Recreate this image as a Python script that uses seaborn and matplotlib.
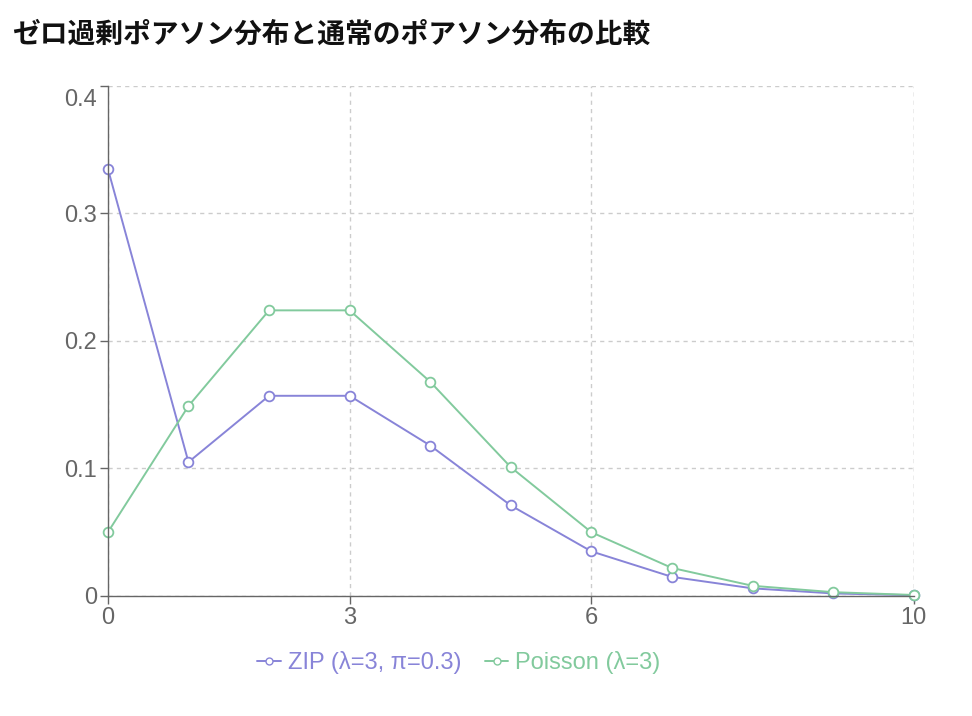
import numpy as np
import pandas as pd
import matplotlib
matplotlib.use("Agg")
import matplotlib.pyplot as plt
import matplotlib.transforms as mtransforms
import seaborn as sns

sns.set_theme(style="white")
plt.rcParams['font.family'] = ['Liberation Sans', 'Noto Sans CJK JP', 'DejaVu Sans']

kValues = [0, 1, 2, 3, 4, 5, 6, 7, 8, 9, 10]
zipProb = [0.335, 0.105, 0.157, 0.157, 0.118, 0.071, 0.035, 0.015, 0.006, 0.002, 0.0006]
poissonProb = [0.050, 0.149, 0.224, 0.224, 0.168, 0.101, 0.050, 0.022, 0.008, 0.003, 0.0008]
seriesNames = ["ZIP (λ=3, π=0.3)", "Poisson (λ=3)"]
seriesColors = ["#8884d8", "#82ca9d"]
xTicks = [0, 3, 6, 10]
yTicks = [0, 0.1, 0.2, 0.3, 0.4]

dfLong = pd.DataFrame({
    'k': kValues * 2,
    'prob': zipProb + poissonProb,
    'serie': [seriesNames[0]] * len(kValues) + [seriesNames[1]] * len(kValues),
})

fig = plt.figure(figsize=(9.72, 7.16), dpi=100)
ax = fig.add_axes([0.111, 0.1676, 0.829, 0.7124])

sns.lineplot(
    data=dfLong, x='k', y='prob', hue='serie',
    palette=dict(zip(seriesNames, seriesColors)),
    marker='o', markersize=7, markerfacecolor='white',
    markeredgewidth=1.3, linewidth=1.4, ax=ax, legend=False
)
# seaborn sets the marker edge to the line colour only when unset
for lineObj, cor in zip(ax.lines, seriesColors):
    lineObj.set_markeredgecolor(cor)
    lineObj.set_clip_on(False)

ax.set_xlim(0, 10)
ax.set_ylim(0, 0.4)
ax.set_xticks(xTicks)
ax.set_xticklabels([str(t) for t in xTicks])
ax.set_yticks(yTicks)
ax.set_yticklabels(["0", "0.1", "0.2", "0.3", "0.4"])
ax.grid(True, linestyle=(0, (3, 3)), color='#cccccc', linewidth=1)
ax.set_axisbelow(True)
for lado in ['top', 'right']:
    ax.spines[lado].set_visible(False)
for lado in ['left', 'bottom']:
    ax.spines[lado].set_color('#666666')
    ax.spines[lado].set_linewidth(1)
ax.tick_params(axis='both', length=6, width=1, color='#666666',
               labelcolor='#666666', labelsize=17, direction='out',
               left=True, bottom=True, pad=2)
ax.set_xlabel("")
ax.set_ylabel("")

# top y label sits a bit below its tick in the reference
topLabel = ax.get_yticklabels()[-1]
topLabel.set_transform(topLabel.get_transform() +
                       mtransforms.ScaledTranslation(0, -8 / 72, fig.dpi_scale_trans))

# right edge grid line like the reference
ax.axvline(10, color='#cccccc', linestyle=(0, (3, 3)), linewidth=1, zorder=0)

handles = [
    plt.Line2D([], [], color=c, marker='o', markerfacecolor='white',
               markeredgecolor=c, markersize=5, linewidth=1.4)
    for c in seriesColors
]
leg = fig.legend(handles, seriesNames, loc='center', bbox_to_anchor=(0.472, 0.075),
                 ncol=2, frameon=False, fontsize=17, handlelength=1.0,
                 handletextpad=0.3, columnspacing=1.0)
for txt, c in zip(leg.get_texts(), seriesColors):
    txt.set_color(c)

fig.text(0.012, 0.951, "ゼロ過剰ポアソン分布と通常のポアソン分布の比較",
         fontsize=20, fontweight='bold', color='#111111', va='center', ha='left',
         family=['Noto Sans CJK JP', 'DejaVu Sans'])

fig.savefig("out.png", dpi=100)
print("grafico gerado")
